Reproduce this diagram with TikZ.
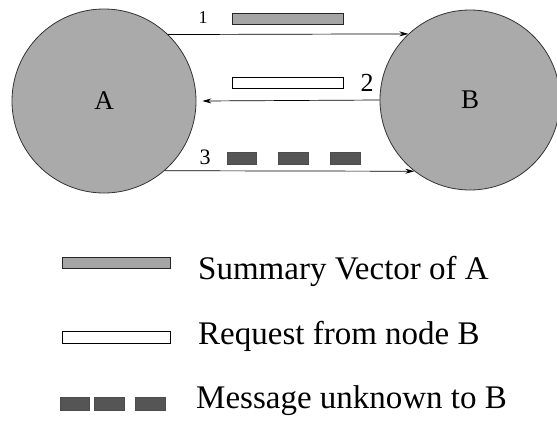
\documentclass[tikz,border=0pt]{standalone}
\usepackage{fontspec}
\setmainfont{Liberation Serif}
\usetikzlibrary{arrows.meta}
\definecolor{circfill}{RGB}{170,170,170}
\definecolor{barfill}{RGB}{165,165,165}
\definecolor{msgfill}{RGB}{85,85,85}
\tikzset{
  peer/.style={circle, draw=black!80, line width=0.8pt, fill=circfill, minimum size=#1, inner sep=0pt, font=\fontsize{27}{27}\selectfont},
  sumbar/.style={draw=black!85, line width=0.6pt, fill=barfill, inner sep=0pt, minimum height=11pt},
  reqbar/.style={draw=black, line width=0.7pt, fill=white, inner sep=0pt, minimum height=11pt},
  msgbox/.style={draw=black!70, line width=0.5pt, fill=msgfill, inner sep=0pt, minimum height=12pt},
  flow/.style={-{Stealth[length=9pt,width=5pt]}, line width=0.7pt},
  legtext/.style={anchor=base west, inner sep=0pt, font=\fontsize{33}{33}\selectfont},
}
\begin{document}
\begin{tikzpicture}[x=1pt,y=-1pt]
\useasboundingbox (0,0) rectangle (557,421);
% peers
\node[peer=184pt] (A) at (104,101) {A};
\node[peer=180pt] (B) at (470,100) {B};
% message 1
\node[inner sep=0pt, font=\fontsize{18}{18}\selectfont] (l1) at (203,18) {1};
\node[sumbar, minimum width=111pt] (s1) at (287.5,18.5) {};
\draw[flow] (A.46) -- (B.133);
% message 2
\node[reqbar, minimum width=111pt] (r1) at (287.5,83) {};
\node[inner sep=0pt, font=\fontsize{26}{26}\selectfont] (l2) at (367,83) {2};
\draw[flow] (B.west) -- ([xshift=6pt]A.east);
% message 3
\node[inner sep=0pt, font=\fontsize{22}{22}\selectfont] (l3) at (205,157) {3};
\node[msgbox, minimum width=29pt] (m1) at (241.5,158) {};
\node[msgbox, minimum width=30pt] (m2) at (293,158) {};
\node[msgbox, minimum width=30pt] (m3) at (345,158) {};
\draw[flow] (A.-49.5) -- (B.-128);
% legend
\node[sumbar, minimum width=108pt] (ks) at (116,263) {};
\node[legtext] (ts) at (198,279) {Summary Vector of A};
\node[reqbar, minimum width=108pt, minimum height=12pt] (kr) at (116,337) {};
\node[legtext] (tr) at (198,344) {Request from node B};
\node[msgbox, minimum width=29pt, minimum height=13pt] (km1) at (74.5,404) {};
\node[msgbox, minimum width=30pt, minimum height=13pt] (km2) at (109,404) {};
\node[msgbox, minimum width=30pt, minimum height=13pt] (km3) at (150,404) {};
\node[legtext] (tm) at (196,408) {Message unknown to B};
\end{tikzpicture}
\end{document}
